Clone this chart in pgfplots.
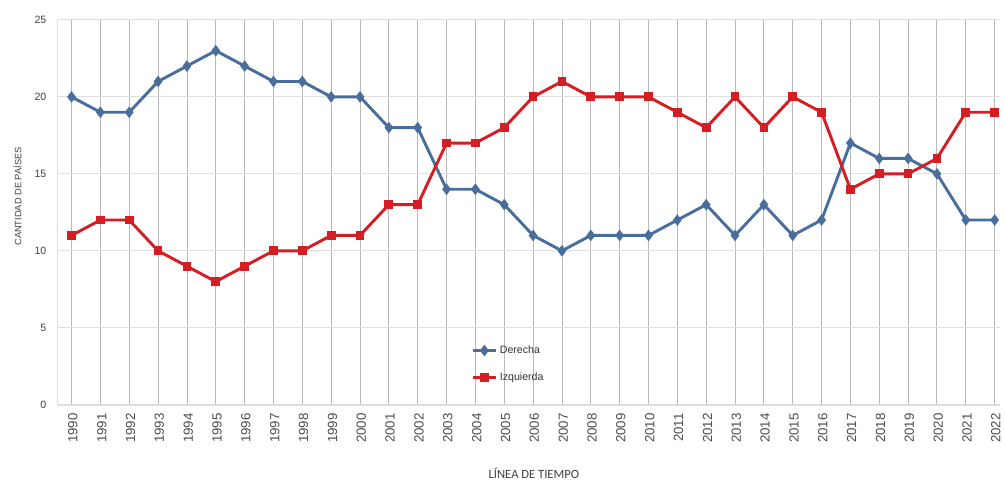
\documentclass[border=0pt]{standalone}
\usepackage{fontspec}
\setmainfont{Liberation Sans}
\newfontfamily\labelfont{Carlito}
\usepackage{pgfplots}
\pgfplotsset{compat=1.18}
\definecolor{derecha}{RGB}{74,110,156}
\definecolor{izquierda}{RGB}{212,30,36}
\definecolor{vgrid}{RGB}{185,185,185}
\definecolor{hgrid}{RGB}{222,222,222}

\begin{document}
\begin{tikzpicture}
\begin{axis}[
    at={(0,0)}, anchor=south west,
    scale only axis,
    width=710.25pt, height=290.25pt,
    xmin=1989.52, xmax=2022.17,
    ymin=0, ymax=25,
    xtick={1990,...,2022},
    ytick={0,5,...,25},
    xticklabel style={rotate=90, anchor=east, font=\fontsize{10}{12}\selectfont, text=black!70, yshift=-1pt, xshift=-3pt},
    yticklabel style={font=\fontsize{8}{10}\selectfont, text=black!75, xshift=-5pt},
    /pgf/number format/assume math mode=true,
    /pgf/number format/1000 sep={},
    major tick length=0pt,
    axis x line=bottom, axis y line=left,
    axis line style={-, draw=hgrid},
    xmajorgrids, ymajorgrids,
    x grid style={vgrid, line width=0.6pt},
    y grid style={hgrid, line width=0.6pt},
    xlabel={LÍNEA DE TIEMPO},
    ylabel={CANTIDAD DE PAÍSES},
    xlabel style={font=\labelfont\fontsize{9.5}{11}\selectfont, text=black!75, xshift=4pt, yshift=-12pt},
    ylabel style={font=\fontsize{7}{9}\selectfont, text=black!75, yshift=3pt, xshift=12pt},
    legend style={at={(0.435,0.106)}, anchor=west, draw=none, fill=none,
        font=\fontsize{8}{10}\selectfont, row sep=9pt, text=black!80},
    legend cell align=left,
    clip=false,
]
\addplot[derecha, line width=2.2pt, mark=diamond*, mark size=2.6pt] coordinates {
(1990,20) (1991,19) (1992,19) (1993,21) (1994,22) (1995,23) (1996,22) (1997,21)
(1998,21) (1999,20) (2000,20) (2001,18) (2002,18) (2003,14) (2004,14) (2005,13)
(2006,11) (2007,10) (2008,11) (2009,11) (2010,11) (2011,12) (2012,13) (2013,11)
(2014,13) (2015,11) (2016,12) (2017,17) (2018,16) (2019,16) (2020,15) (2021,12)
(2022,12)
};
\addlegendentry{Derecha}
\addplot[izquierda, line width=2.2pt, mark=square*, mark size=2.2pt] coordinates {
(1990,11) (1991,12) (1992,12) (1993,10) (1994,9) (1995,8) (1996,9) (1997,10)
(1998,10) (1999,11) (2000,11) (2001,13) (2002,13) (2003,17) (2004,17) (2005,18)
(2006,20) (2007,21) (2008,20) (2009,20) (2010,20) (2011,19) (2012,18) (2013,20)
(2014,18) (2015,20) (2016,19) (2017,14) (2018,15) (2019,15) (2020,16) (2021,19)
(2022,19)
};
\addlegendentry{Izquierda}
\end{axis}
\path[use as bounding box] (-43.5pt,-68.25pt) rectangle (710.25pt,305.25pt);
\end{tikzpicture}
\end{document}
